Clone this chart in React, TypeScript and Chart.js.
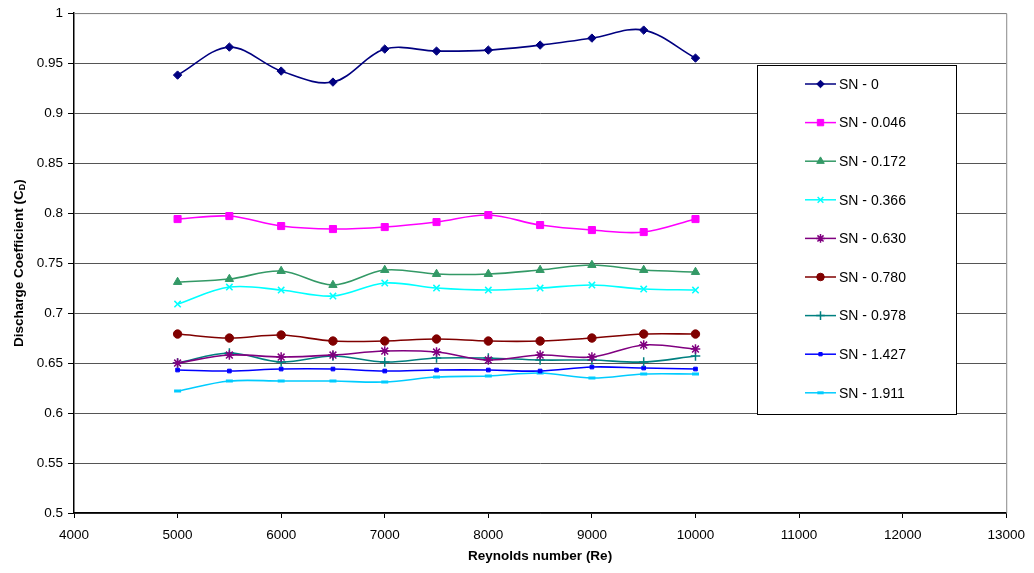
import { useEffect, useRef } from 'react'
import { Chart, registerables, type ChartConfiguration, type Plugin } from 'chart.js'
import { drawPoint } from 'chart.js/helpers'

Chart.register(...registerables)

// Discharge coefficient vs Reynolds number for several swirl numbers

const reynolds = [5000, 5500, 6000, 6500, 7000, 7500, 8000, 8500, 9000, 9500, 10000]

const sn0    = [0.938, 0.966, 0.942, 0.931, 0.964, 0.962, 0.963, 0.968, 0.975, 0.983, 0.955]
const sn0046 = [0.794, 0.797, 0.787, 0.784, 0.786, 0.791, 0.798, 0.788, 0.783, 0.781, 0.794]
const sn0172 = [0.731, 0.734, 0.742, 0.728, 0.743, 0.739, 0.739, 0.743, 0.748, 0.743, 0.741]
const sn0366 = [0.709, 0.726, 0.723, 0.717, 0.730, 0.725, 0.723, 0.725, 0.728, 0.724, 0.723]
const sn0630 = [0.650, 0.658, 0.656, 0.658, 0.662, 0.661, 0.653, 0.658, 0.656, 0.668, 0.664]
const sn0780 = [0.679, 0.675, 0.678, 0.672, 0.672, 0.674, 0.672, 0.672, 0.675, 0.679, 0.679]
const sn0978 = [0.650, 0.660, 0.651, 0.657, 0.651, 0.655, 0.655, 0.653, 0.653, 0.651, 0.657]
const sn1427 = [0.643, 0.642, 0.644, 0.644, 0.642, 0.643, 0.643, 0.642, 0.646, 0.645, 0.644]
const sn1911 = [0.622, 0.632, 0.632, 0.632, 0.631, 0.636, 0.637, 0.640, 0.635, 0.639, 0.639]

const seriesLabels = ['SN - 0', 'SN - 0.046', 'SN - 0.172', 'SN - 0.366', 'SN - 0.630', 'SN - 0.780', 'SN - 0.978', 'SN - 1.427', 'SN - 1.911']
const seriesValues = [sn0, sn0046, sn0172, sn0366, sn0630, sn0780, sn0978, sn1427, sn1911]

const X_TITLE = 'Reynolds number (Re)'
const Y_TITLE = 'Discharge Coefficient (C'
const Y_TITLE_SUB = 'D'

const FONT = '"Liberation Sans", Arial, sans-serif'

interface Style { color: string; point: string; radius: number; width: number; fill: boolean }

const styles: Style[] = [
  { color: '#000080', point: 'rectRot',  radius: 4.2, width: 1,   fill: true },
  { color: '#ff00ff', point: 'rect',     radius: 5,   width: 1,   fill: true },
  { color: '#339966', point: 'triangle', radius: 4.8, width: 1,   fill: true },
  { color: '#00ffff', point: 'crossRot', radius: 4.5, width: 1.5, fill: false },
  { color: '#800080', point: 'star',     radius: 4.8, width: 1.5, fill: false },
  { color: '#800000', point: 'circle',   radius: 4.2, width: 1,   fill: true },
  { color: '#008080', point: 'cross',    radius: 4.8, width: 1.5, fill: false },
  { color: '#0000ff', point: 'rect',     radius: 2.6, width: 1,   fill: true },
  { color: '#00ccff', point: 'line',     radius: 3.5, width: 3,   fill: false },
]

const decorations: Plugin<'line'> = {
  id: 'decorations',
  beforeDatasetsDraw(chart) {
    const { ctx, chartArea: a } = chart
    ctx.save()
    ctx.strokeStyle = '#888'
    ctx.lineWidth = 1
    ctx.beginPath()
    ctx.moveTo(a.left, a.top + 0.5)
    ctx.lineTo(a.right + 0.5, a.top + 0.5)
    ctx.lineTo(a.right + 0.5, a.bottom)
    ctx.stroke()
    ctx.restore()
  },
  afterDraw(chart) {
    const { ctx, chartArea: a } = chart
    ctx.save()

    // legend box
    const bx = 757, by = 65, bw = 199, bh = 349
    ctx.fillStyle = '#fff'
    ctx.fillRect(bx, by, bw, bh)
    ctx.strokeStyle = '#000'
    ctx.lineWidth = 1
    ctx.strokeRect(bx + 0.5, by + 0.5, bw, bh)
    chart.data.datasets.forEach((ds, i) => {
      const s = styles[i]
      const y = 84 + i * 38.6
      ctx.strokeStyle = s.color
      ctx.lineWidth = 1.5
      ctx.beginPath()
      ctx.moveTo(805, y)
      ctx.lineTo(836, y)
      ctx.stroke()
      ctx.fillStyle = s.color
      ctx.strokeStyle = s.color
      ctx.lineWidth = s.width
      drawPoint(ctx, { pointStyle: s.point as any, radius: s.radius * 0.9, rotation: 0, borderWidth: s.width }, 820.5, y)
      ctx.fillStyle = '#000'
      ctx.font = `14px ${FONT}`
      ctx.textAlign = 'left'
      ctx.textBaseline = 'middle'
      ctx.fillText(ds.label ?? '', 839, y + 1)
    })

    // x axis title
    ctx.fillStyle = '#000'
    ctx.font = `bold 13.5px ${FONT}`
    ctx.textAlign = 'center'
    ctx.textBaseline = 'middle'
    ctx.fillText(X_TITLE, (a.left + a.right) / 2, 556)

    // y axis title with subscript
    const main = `bold 13.5px ${FONT}`
    const sub = `bold 9px ${FONT}`
    ctx.font = main
    const w1 = ctx.measureText(Y_TITLE).width
    const w3 = ctx.measureText(')').width
    ctx.font = sub
    const w2 = ctx.measureText(Y_TITLE_SUB).width
    const total = w1 + w2 + w3
    ctx.translate(19, (a.top + a.bottom) / 2)
    ctx.rotate(-Math.PI / 2)
    ctx.textAlign = 'left'
    ctx.font = main
    ctx.fillText(Y_TITLE, -total / 2, 0)
    ctx.font = sub
    ctx.fillText(Y_TITLE_SUB, -total / 2 + w1, 3.5)
    ctx.font = main
    ctx.fillText(')', -total / 2 + w1 + w2, 0)
    ctx.restore()
  },
}

export default function App() {
  const canvasRef = useRef<HTMLCanvasElement>(null)
  const chartRef = useRef<Chart | null>(null)

  useEffect(() => {
    if (!canvasRef.current) return
    if (chartRef.current) { chartRef.current.destroy(); chartRef.current = null }

    const datasets = seriesValues.map((vals, i) => {
      const s = styles[i]
      return {
        label: seriesLabels[i],
        data: vals.map((v, j) => ({ x: reynolds[j], y: v })),
        borderColor: s.color,
        backgroundColor: s.color,
        borderWidth: 1.6,
        tension: 0.35,
        pointStyle: s.point as any,
        pointRadius: s.radius,
        pointHoverRadius: s.radius,
        pointBackgroundColor: s.fill ? s.color : 'rgba(0,0,0,0)',
        pointBorderColor: s.color,
        pointBorderWidth: s.width,
      }
    })

    const config: ChartConfiguration<'line'> = {
      type: 'line',
      data: { datasets },
      options: {
        responsive: true,
        maintainAspectRatio: false,
        animation: false,
        layout: { padding: { top: 13, right: 26, left: 0, bottom: 0 } },
        scales: {
          x: {
            type: 'linear',
            min: 4000,
            max: 13000,
            afterFit: (scale) => { scale.height = 60 },
            grid: { drawOnChartArea: false, drawTicks: true, tickLength: 5, tickColor: '#000' },
            border: { color: '#000', width: 1.5 },
            ticks: {
              stepSize: 1000,
              color: '#000',
              padding: 9,
              maxRotation: 0,
              font: { size: 13.5, family: FONT },
              callback: (v) => String(v),
            },
          },
          y: {
            min: 0.5,
            max: 1,
            afterFit: (scale) => { scale.width = 74 },
            grid: { color: '#555', lineWidth: 1, drawTicks: true, tickLength: 6, tickColor: '#000' },
            border: { color: '#000', width: 1.5 },
            ticks: {
              stepSize: 0.05,
              color: '#000',
              padding: 5,
              font: { size: 13.5, family: FONT },
              callback: (v) => String(Number(Number(v).toFixed(2))),
            },
          },
        },
        plugins: {
          legend: { display: false },
          tooltip: { enabled: false },
        },
      },
      plugins: [decorations],
    }
    chartRef.current = new Chart(canvasRef.current, config)
    return () => { chartRef.current?.destroy(); chartRef.current = null }
  }, [])

  return (
    <div style={{ position: 'absolute', left: 0, top: 0, width: 1034, height: 573, background: '#fff' }}>
      <canvas ref={canvasRef} />
    </div>
  )
}
